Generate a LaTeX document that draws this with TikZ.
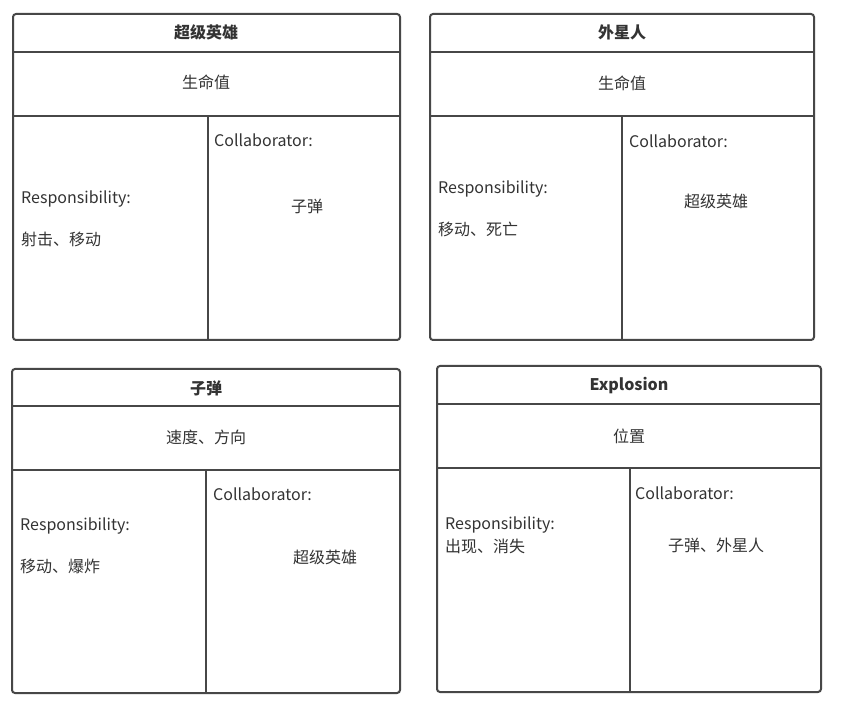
\documentclass[tikz,border=0pt]{standalone}
\usepackage{fontspec}
\setmainfont{Noto Sans CJK SC}
\begin{document}
\begin{tikzpicture}[x=1pt,y=-1pt,
  frame/.style={draw=black!72,line width=2pt,rounded corners=3pt},
  rule/.style={draw=black!72,line width=2pt},
  txt/.style={inner sep=0pt,text=black!80,font=\fontsize{16}{19}\selectfont},
  ttl/.style={inner sep=0pt,text=black!80,font=\fontsize{16}{19}\selectfont\bfseries},
  lft/.style={txt,anchor=west}]
\useasboundingbox (0,0) rectangle (841,708);
\fill[white] (0,0) rectangle (841,708);
% card 1
\draw[frame] (13,14) rectangle (400,340);
\draw[rule] (13,52) -- (400,52);
\draw[rule] (13,116) -- (400,116);
\draw[rule] (208,116) -- (208,340);
\node[ttl] (t1) at (206,32) {超级英雄};
\node[txt] (a1) at (206,82) {生命值};
\node[lft] (c1) at (214,140) {Collaborator:};
\node[txt] (cv1) at (307,206) {子弹};
\node[lft] (r1) at (21,199) {Responsibility:};
\node[lft] (rv1) at (21,239) {射击、移动};
% card 2
\draw[frame] (430,14) rectangle (814,340);
\draw[rule] (430,52) -- (814,52);
\draw[rule] (430,116) -- (814,116);
\draw[rule] (622,116) -- (622,340);
\node[ttl] (t2) at (622,32) {外星人};
\node[txt] (a2) at (622,83) {生命值};
\node[lft] (c2) at (629,141) {Collaborator:};
\node[txt] (cv2) at (716,201) {超级英雄};
\node[lft] (r2) at (438,189) {Responsibility:};
\node[lft] (rv2) at (438,229) {移动、死亡};
% card 3
\draw[frame] (12,369) rectangle (400,693);
\draw[rule] (12,406) -- (400,406);
\draw[rule] (12,470) -- (400,470);
\draw[rule] (206,470) -- (206,693);
\node[ttl] (t3) at (206,388) {子弹};
\node[txt] (a3) at (206,437) {速度、方向};
\node[lft] (c3) at (213,494) {Collaborator:};
\node[txt] (cv3) at (325,557) {超级英雄};
\node[lft] (r3) at (20,526) {Responsibility:};
\node[lft] (rv3) at (20,566) {移动、爆炸};
% card 4
\draw[frame] (437,366) rectangle (821,692);
\draw[rule] (437,404) -- (821,404);
\draw[rule] (437,468) -- (821,468);
\draw[rule] (630,468) -- (630,692);
\node[ttl] (t4) at (629,386) {Explosion};
\node[txt] (a4) at (629,436) {位置};
\node[lft] (c4) at (635,493) {Collaborator:};
\node[txt] (cv4) at (716,545) {子弹、外星人};
\node[lft] (r4) at (445,525) {Responsibility:};
\node[lft] (rv4) at (445,546) {出现、消失};
\end{tikzpicture}
\end{document}
